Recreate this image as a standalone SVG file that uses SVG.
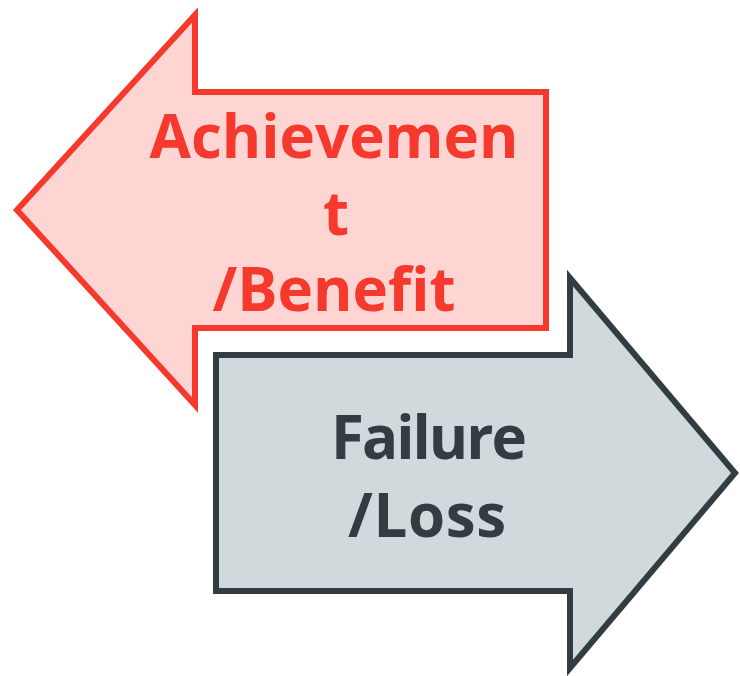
<svg xmlns="http://www.w3.org/2000/svg" width="740" height="676" viewBox="0 0 740 676">
<style>
.lbl{font-family:"Open Sans","Noto Sans","Liberation Sans",sans-serif;font-weight:700;font-size:60px;text-anchor:middle}
.red path{fill:#FFD5D3;stroke:#F5392D;stroke-width:6}
.red text{fill:#F5392D}
.grey path{fill:#D1D9DC;stroke:#323D42;stroke-width:6}
.grey text{fill:#323D42}
</style>
<g id="connectors"></g>
<g id="achievement" class="red">
<path d="M17,210 L195,15 L195,92 L546,92 L546,328 L195,328 L195,405 Z"/>
<text class="lbl" x="334" y="158">Achievemen</text>
<text class="lbl" x="336" y="235">t</text>
<text class="lbl" x="334" y="311">/Benefit</text>
</g>
<g id="failure" class="grey">
<path d="M216,355 L570,355 L570,278 L735,473 L570,668 L570,591 L216,591 Z"/>
<text class="lbl" x="429" y="459" textLength="196">Failure</text>
<text class="lbl" x="427" y="537" textLength="158">/Loss</text>
</g>
</svg>
